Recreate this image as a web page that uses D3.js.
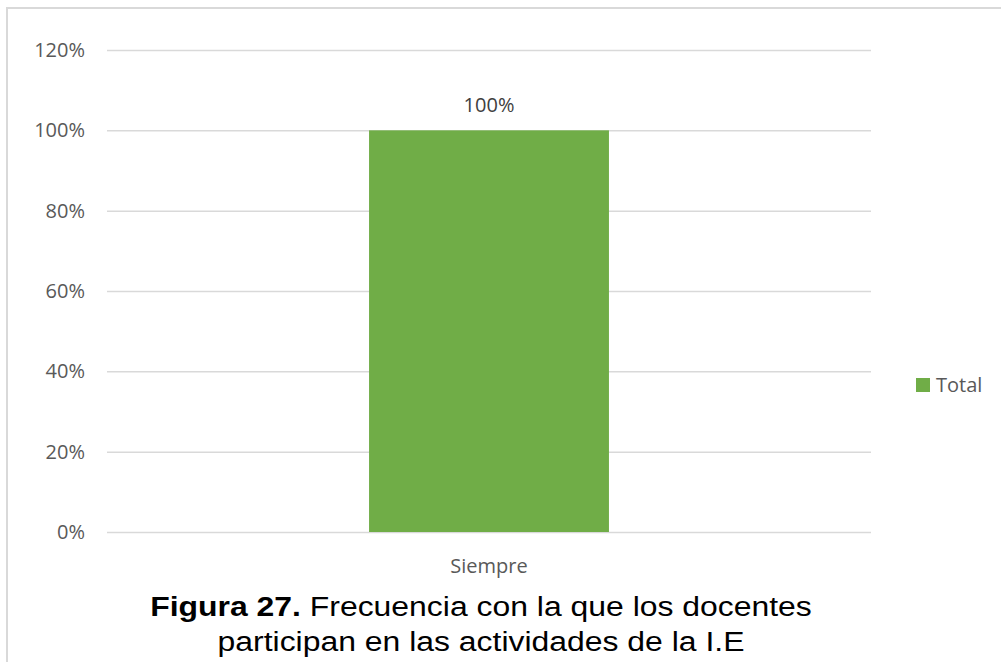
<!DOCTYPE html>
<html>
<head>
<meta charset="utf-8">
<script src="https://cdn.jsdelivr.net/npm/d3@7"></script>
<style>
  html, body { margin: 0; padding: 0; background: #fff; }
  svg { display: block; }
</style>
</head>
<body>
<svg id="chart" width="1001" height="662"></svg>
<script>
// Data
const categories = ["Siempre"];
const totals = [1.0];
const yTicks = [0, 0.2, 0.4, 0.6, 0.8, 1.0, 1.2];
const seriesName = "Total";
const captionBold = "Figura 27.";
const captionLine1 = " Frecuencia con la que los docentes";
const captionLine2 = "participan en las actividades de la I.E";

const W = 1001, H = 662;
const svg = d3.select("#chart");
const green = "#70AD47";
const gridColor = "#D9D9D9";
const textColor = "#595959";
const labelFont = "'Open Sans', sans-serif";

// chart frame
svg.append("rect")
  .attr("x", 7).attr("y", 8)
  .attr("width", W + 10).attr("height", H + 10)
  .attr("fill", "#fff")
  .attr("stroke", gridColor).attr("stroke-width", 2);

const plot = { left: 107, right: 871, top: 50, bottom: 532 };

const x = d3.scaleBand()
  .domain(categories)
  .range([plot.left, plot.right])
  .paddingInner(0.686).paddingOuter(0.343);

const y = d3.scaleLinear()
  .domain([0, 1.2])
  .range([plot.bottom, plot.top]);

// gridlines + y labels
const yAxis = d3.axisLeft(y)
  .tickValues(yTicks)
  .tickFormat(d3.format(".0%"))
  .tickSize(-(plot.right - plot.left))
  .tickPadding(22);

const gy = svg.append("g")
  .attr("transform", `translate(${plot.left},0)`)
  .call(yAxis);
gy.select(".domain").remove();
gy.selectAll(".tick line").attr("stroke", gridColor).attr("stroke-width", 1.5);
gy.selectAll(".tick text")
  .attr("fill", textColor)
  .style("font-family", labelFont)
  .style("font-size", "20px");

// bars
const bw = x.bandwidth();
svg.append("g").selectAll("rect")
  .data(categories)
  .join("rect")
  .attr("x", d => x(d))
  .attr("y", (d, i) => y(totals[i]))
  .attr("width", bw)
  .attr("height", (d, i) => y(0) - y(totals[i]))
  .attr("fill", green);

// data labels
svg.append("g").selectAll("text")
  .data(categories)
  .join("text")
  .attr("x", d => x(d) + bw / 2)
  .attr("y", (d, i) => y(totals[i]) - 18)
  .attr("text-anchor", "middle")
  .attr("fill", "#404040")
  .style("font-family", labelFont)
  .style("font-size", "20px")
  .text((d, i) => d3.format(".0%")(totals[i]));

// x axis labels
const gx = svg.append("g")
  .attr("transform", `translate(0,${plot.bottom})`)
  .call(d3.axisBottom(x).tickSize(0));
gx.select(".domain").remove();
gx.selectAll(".tick text")
  .attr("dy", null)
  .attr("y", 41)
  .attr("fill", textColor)
  .style("font-family", labelFont)
  .style("font-size", "20px");

// legend
const legend = svg.append("g").attr("transform", "translate(916,378)");
legend.append("rect").attr("width", 14).attr("height", 14).attr("fill", green);
legend.append("text")
  .attr("x", 20).attr("y", 7).attr("dy", "0.36em")
  .attr("fill", textColor)
  .style("font-family", labelFont)
  .style("font-size", "20px")
  .text(seriesName);

// caption (set slightly wide, as in the document figure)
const cap = svg.append("g")
  .attr("transform", "translate(481,0) scale(1.14,1)")
  .style("font-family", "'Liberation Sans', Arial, sans-serif")
  .style("font-size", "28px")
  .attr("fill", "#000");
const t1 = cap.append("text").attr("x", 0).attr("y", 616).attr("text-anchor", "middle");
t1.append("tspan").attr("font-weight", "bold").text(captionBold);
t1.append("tspan").text(captionLine1);
cap.append("text").attr("x", 0).attr("y", 651).attr("text-anchor", "middle").text(captionLine2);
</script>
</body>
</html>
